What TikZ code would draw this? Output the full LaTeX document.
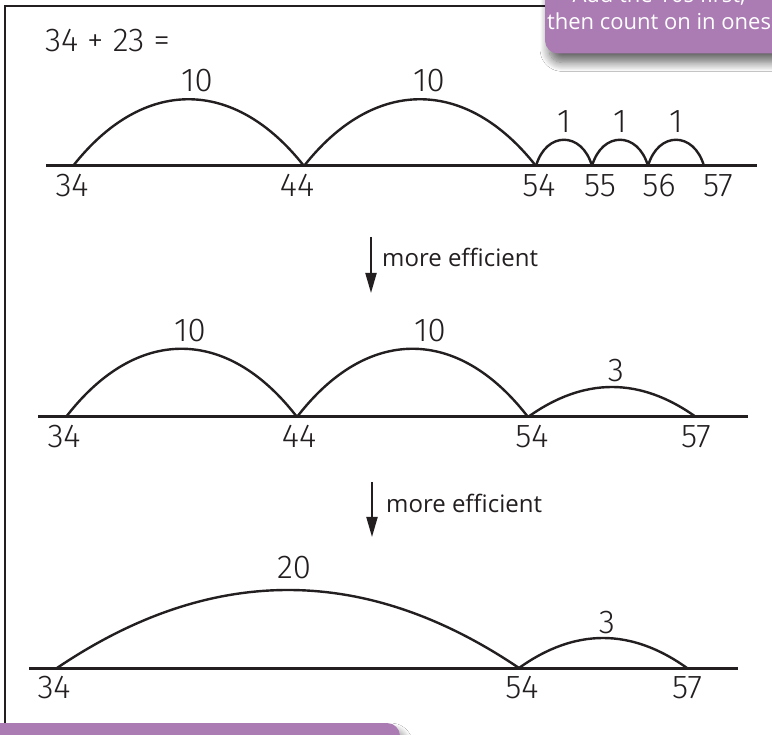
\documentclass[tikz,border=0pt]{standalone}
\usepackage{fontspec}
\setmainfont{Open Sans}
\newfontfamily\handfont{Fira Sans Light}
\usetikzlibrary{calc, arrows.meta, shadows.blur}
\definecolor{notePurple}{RGB}{171, 123, 179}
\definecolor{inkGrey}{RGB}{35, 31, 32}

\begin{document}
\begin{tikzpicture}[
    x=1pt, y=-1pt,
    numline/.style={line width=3pt, draw=inkGrey},
    jump/.style={line width=2.4pt, draw=inkGrey},
    hand/.style={font=\handfont\fontsize{33}{33}\selectfont, text=inkGrey,
                 anchor=base, inner sep=0pt},
    note/.style={fill=notePurple, rounded corners=13pt, inner sep=0pt,
                 blur shadow={shadow xshift=4pt, shadow yshift=-9pt,
                              shadow blur radius=9pt, shadow blur steps=14,
                              shadow opacity=60}},
    tip/.style={font=\fontsize{22}{27}\selectfont, text=white, align=center},
    arrow/.style={-{Triangle[length=20pt, width=11pt]}, line width=2pt, inkGrey},
  ]
    \clip (0,0) rectangle (772,735);
    \fill[white] (0,0) rectangle (772,735);

    % frame
    \draw[line width=2pt, inkGrey] (5,6) rectangle (800,800);

    \node[hand, anchor=base west] (sum) at (45,52) {34 + 23 =};

    % first line: tens, then ones
    \coordinate (s1) at (46,166);
    \coordinate (e1) at (757,166);
    \draw[numline] (s1) -- (e1);
    \foreach \n/\x in {34/73, 44/304, 54/536, 55/592, 56/648, 57/704}
      \coordinate (a\n) at (\x,166);
    \foreach \p/\q/\h/\d in {34/44/89/70, 44/54/89/70, 54/55/35/10, 55/56/35/10, 56/57/35/10}
      \draw[jump] (a\p) .. controls +(\d,-\h) and +(-\d,-\h) .. (a\q);
    \foreach \n/\x in {34/72, 44/297, 54/539, 55/600, 56/659, 57/718}
      \node[hand] (la\n) at (\x,197) {\n};
    \node[hand] (ja1) at (197,92) {10};
    \node[hand] (ja2) at (429,92) {10};
    \node[hand] (ja3) at (564,133) {1};
    \node[hand] (ja4) at (620,133) {1};
    \node[hand] (ja5) at (676,133) {1};

    \coordinate (d1s) at (371,237);
    \coordinate (d1e) at (371,293);
    \draw[arrow] (d1s) -- (d1e);
    \node[anchor=base west, inner sep=0pt, font=\fontsize{24}{24}\selectfont,
          text=inkGrey] (m1) at (382,267) {more efficient};

    % second line
    \coordinate (s2) at (38,417);
    \coordinate (e2) at (748,417);
    \draw[numline] (s2) -- (e2);
    \foreach \n/\x in {34/66, 44/297, 54/528, 57/696}
      \coordinate (b\n) at (\x,417);
    \foreach \p/\q/\h/\d in {34/44/91/70, 44/54/91/70, 54/57/40/56}
      \draw[jump] (b\p) .. controls +(\d,-\h) and +(-\d,-\h) .. (b\q);
    \foreach \n/\x in {34/64, 44/299, 54/532, 57/696}
      \node[hand] (lb\n) at (\x,448) {\n};
    \node[hand] (jb1) at (190,342) {10};
    \node[hand] (jb2) at (430,342) {10};
    \node[hand] (jb3) at (616,382) {3};

    \coordinate (d2s) at (372,482);
    \coordinate (d2e) at (372,537);
    \draw[arrow] (d2s) -- (d2e);
    \node[anchor=base west, inner sep=0pt, font=\fontsize{24}{24}\selectfont,
          text=inkGrey] (m2) at (386,512) {more efficient};

    % third line
    \coordinate (s3) at (29,668);
    \coordinate (e3) at (738,668);
    \draw[numline] (s3) -- (e3);
    \foreach \n/\x in {34/57, 54/519, 57/687}
      \coordinate (c\n) at (\x,668);
    \foreach \p/\q/\h/\d in {34/54/104/154, 54/57/40/56}
      \draw[jump] (c\p) .. controls +(\d,-\h) and +(-\d,-\h) .. (c\q);
    \foreach \n/\x in {34/54, 54/522, 57/687}
      \node[hand] (lc\n) at (\x,698) {\n};
    \node[hand] (jc1) at (294,578) {20};
    \node[hand] (jc2) at (607,633) {3};

    % purple notes
    \node[note, minimum width=250pt, minimum height=97pt] (topnote) at (670,5) {};
    \node[tip] (tiptext) at (659,8) {Add the 10s first,\\then count on in ones};
    \node[note, minimum width=440pt, minimum height=90pt] (bottomnote) at (180,768) {};
  \end{tikzpicture}
\end{document}
